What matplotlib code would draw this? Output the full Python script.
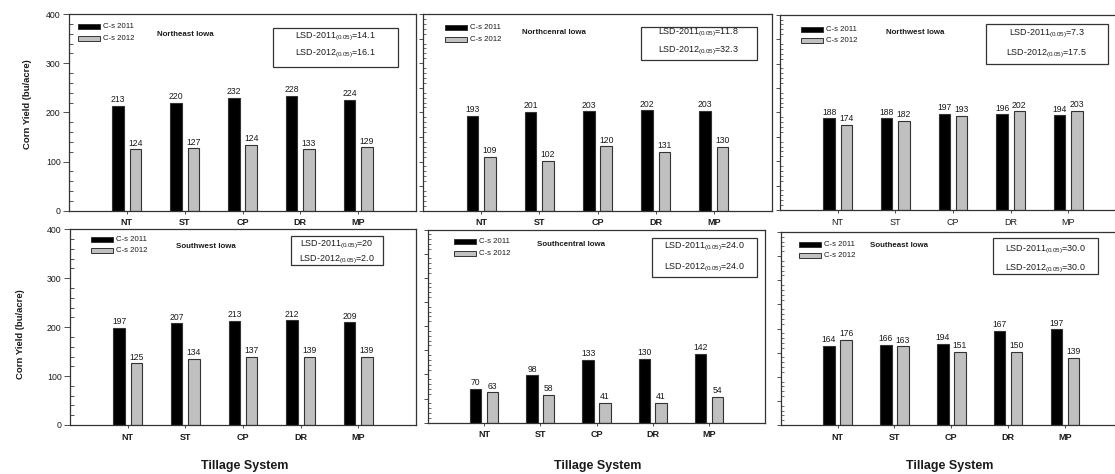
import numpy as np
import matplotlib
matplotlib.use('Agg')
import matplotlib.pyplot as plt
from matplotlib.patches import Rectangle
from matplotlib.ticker import MultipleLocator

plt.rcParams['font.family'] = ['Liberation Sans', 'DejaVu Sans']
plt.rcParams['mathtext.fontset'] = 'custom'
plt.rcParams['mathtext.rm'] = 'Liberation Sans'
plt.rcParams['mathtext.it'] = 'Liberation Sans:italic'
plt.rcParams['mathtext.bf'] = 'Liberation Sans:bold'

# DATA
tillage = ['NT', 'ST', 'CP', 'DR', 'MP']
regions = ['Northeast Iowa', 'Northcenral Iowa', 'Northwest Iowa',
           'Southwest Iowa', 'Southcentral Iowa', 'Southeast Iowa']
series_names = ['C-s 2011', 'C-s 2012']

# bar heights as drawn, and the numbers printed over them
ne_2011 = [213, 220, 230, 233, 225]
ne_2011_lbl = [213, 220, 232, 228, 224]
ne_2012 = [125, 127, 134, 125, 129]
ne_2012_lbl = [124, 127, 124, 133, 129]

nc_2011 = [193, 201, 202, 204, 203]
nc_2011_lbl = [193, 201, 203, 202, 203]
nc_2012 = [109, 102, 131, 120, 130]
nc_2012_lbl = [109, 102, 120, 131, 130]

nw_2011 = [188, 188, 197, 196, 194]
nw_2011_lbl = [188, 188, 197, 196, 194]
nw_2012 = [174, 182, 193, 202, 203]
nw_2012_lbl = [174, 182, 193, 202, 203]

sw_2011 = [198, 208, 213, 214, 210]
sw_2011_lbl = [197, 207, 213, 212, 209]
sw_2012 = [126, 135, 139, 139, 140]
sw_2012_lbl = [125, 134, 137, 139, 139]

sc_2011 = [70, 98, 130, 132, 142]
sc_2011_lbl = [70, 98, 133, 130, 142]
sc_2012 = [63, 58, 41, 41, 54]
sc_2012_lbl = [63, 58, 41, 41, 54]

se_2011 = [164, 166, 168, 195, 198]
se_2011_lbl = [164, 166, 194, 167, 197]
se_2012 = [176, 163, 151, 151, 139]
se_2012_lbl = [176, 163, 151, 150, 139]

lsd_2011 = ['14.1', '11.8', '7.3', '20', '24.0', '30.0']
lsd_2012 = ['16.1', '32.3', '17.5', '2.0', '24.0', '30.0']

values_2011 = [ne_2011, nc_2011, nw_2011, sw_2011, sc_2011, se_2011]
labels_2011 = [ne_2011_lbl, nc_2011_lbl, nw_2011_lbl, sw_2011_lbl, sc_2011_lbl, se_2011_lbl]
values_2012 = [ne_2012, nc_2012, nw_2012, sw_2012, sc_2012, se_2012]
labels_2012 = [ne_2012_lbl, nc_2012_lbl, nw_2012_lbl, sw_2012_lbl, sc_2012_lbl, se_2012_lbl]

# LAYOUT (pixels: left, top, right, bottom)
W, H = 1115, 474
axes_px = [(69, 14, 416, 210.7), (423, 14, 772, 210.7), (780, 14.7, 1126, 210),
           (70, 229.3, 416, 425), (428, 229.5, 765, 422.7), (780.7, 232, 1122, 425)]
lsd_px = [(272.7, 28, 397.7, 66.7), (640.7, 27.3, 756.7, 60), (985.7, 24, 1107.7, 64.3),
          (290.7, 236, 383.3, 265), (651.7, 238.3, 756.7, 276.7), (993.3, 238.3, 1098.3, 274)]
lsd_lines_y = [(37, 54), (33, 51), (34, 54), (245, 260), (247, 267.5), (249.5, 268.5)]
legend_px = [(78, 26.5), (445, 27.5), (801, 29.2), (91, 239.2), (454, 241.5), (799, 244.2)]
title_px = [(157, 35), (521.7, 33), (885.7, 33), (176, 246.7), (536.7, 244), (870, 245.7)]
labelled_y = [True, False, False, True, False, False]
bold_x = [True, True, False, True, True, True]

EDGE = '#333333'
GRAY = '#c0c0c0'
TXT = '#1a1a1a'


def fx(x):
    return x / W


def fy(y):
    return 1 - y / H


fig = plt.figure(figsize=(W / 100, H / 100), dpi=100)

for i in range(6):
    l, t, r, b = axes_px[i]
    ax = fig.add_axes([fx(l), fy(b), (r - l) / W, (b - t) / H])
    x = np.arange(1, len(tillage) + 1)

    ax.bar(x - 0.15, values_2011[i], 0.2, color='black', edgecolor=EDGE, linewidth=0.8)
    ax.bar(x + 0.15, values_2012[i], 0.2, color=GRAY, edgecolor=EDGE, linewidth=0.8)

    for xi, h, lab in zip(x, values_2011[i], labels_2011[i]):
        ax.annotate(str(lab), (xi - 0.15, h), xytext=(0, 1.2), textcoords='offset points',
                    ha='center', va='bottom', fontsize=6.2, color=TXT)
    for xi, h, lab in zip(x, values_2012[i], labels_2012[i]):
        ax.annotate(str(lab), (xi + 0.15, h), xytext=(0, 1.2), textcoords='offset points',
                    ha='center', va='bottom', fontsize=6.2, color=TXT)

    ax.set_xlim(0, 6)
    ax.set_ylim(0, 400)
    ax.set_xticks(x)
    ax.set_xticklabels(tillage, fontsize=6.5, color=TXT,
                       fontweight='bold' if bold_x[i] else 'normal')
    ax.tick_params(axis='x', length=2, width=0.6, direction='out', pad=3.5, color=EDGE)

    if labelled_y[i]:
        ax.yaxis.set_major_locator(MultipleLocator(100))
        ax.yaxis.set_minor_locator(MultipleLocator(20))
        ax.tick_params(axis='y', which='major', direction='out', length=4, width=0.6,
                       labelsize=6.3, pad=2, color=EDGE, labelcolor=TXT)
        ax.tick_params(axis='y', which='minor', direction='in', length=3, width=0.6, color=EDGE)
    else:
        ax.yaxis.set_major_locator(MultipleLocator(50))
        ax.yaxis.set_minor_locator(MultipleLocator(10))
        ax.tick_params(axis='y', which='major', direction='out', length=3, width=0.6,
                       labelleft=False, color=EDGE)
        ax.tick_params(axis='y', which='minor', direction='in', length=2, width=0.5, color=EDGE)

    for sp in ax.spines.values():
        sp.set_linewidth(0.9)
        sp.set_color(EDGE)

    # legend drawn by hand
    lx, ly = legend_px[i]
    for k, (name, col) in enumerate(zip(series_names, ['black', GRAY])):
        cy = ly + k * 11.6
        fig.add_artist(Rectangle((fx(lx), fy(cy + 2.5)), 22 / W, 5 / H, transform=fig.transFigure,
                                 facecolor=col, edgecolor=EDGE, linewidth=0.7))
        fig.text(fx(lx + 25), fy(cy), name, fontsize=5.6, va='center', ha='left', color=TXT)

    # region name
    tx, ty = title_px[i]
    fig.text(fx(tx), fy(ty), regions[i], fontsize=5.7, fontweight='bold', va='center', ha='left', color=TXT)

    # LSD box
    bl, bt, br, bb = lsd_px[i]
    fig.add_artist(Rectangle((fx(bl), fy(bb)), (br - bl) / W, (bb - bt) / H, transform=fig.transFigure,
                             facecolor='white', edgecolor=EDGE, linewidth=0.9))
    y1, y2 = lsd_lines_y[i]
    cx = (bl + br) / 2
    fig.text(fx(cx), fy(y1), r'LSD-2011$_{\mathregular{(0.05)}}$=' + lsd_2011[i],
             fontsize=6.4, ha='center', va='center', color=TXT)
    fig.text(fx(cx), fy(y2), r'LSD-2012$_{\mathregular{(0.05)}}$=' + lsd_2012[i],
             fontsize=6.4, ha='center', va='center', color=TXT)

# axis titles
for cx in [244.7, 597.5, 950]:
    fig.text(fx(cx), fy(466), 'Tillage System', fontsize=9, fontweight='bold',
             ha='center', va='center', color=TXT)
fig.text(fx(28), fy(104), 'Corn Yield (bu/acre)', fontsize=6.8, fontweight='bold',
         rotation=90, ha='center', va='center', color=TXT)
fig.text(fx(21), fy(334), 'Corn Yield (bu/acre)', fontsize=6.8, fontweight='bold',
         rotation=90, ha='center', va='center', color=TXT)

plt.savefig('out.png', dpi=100)
